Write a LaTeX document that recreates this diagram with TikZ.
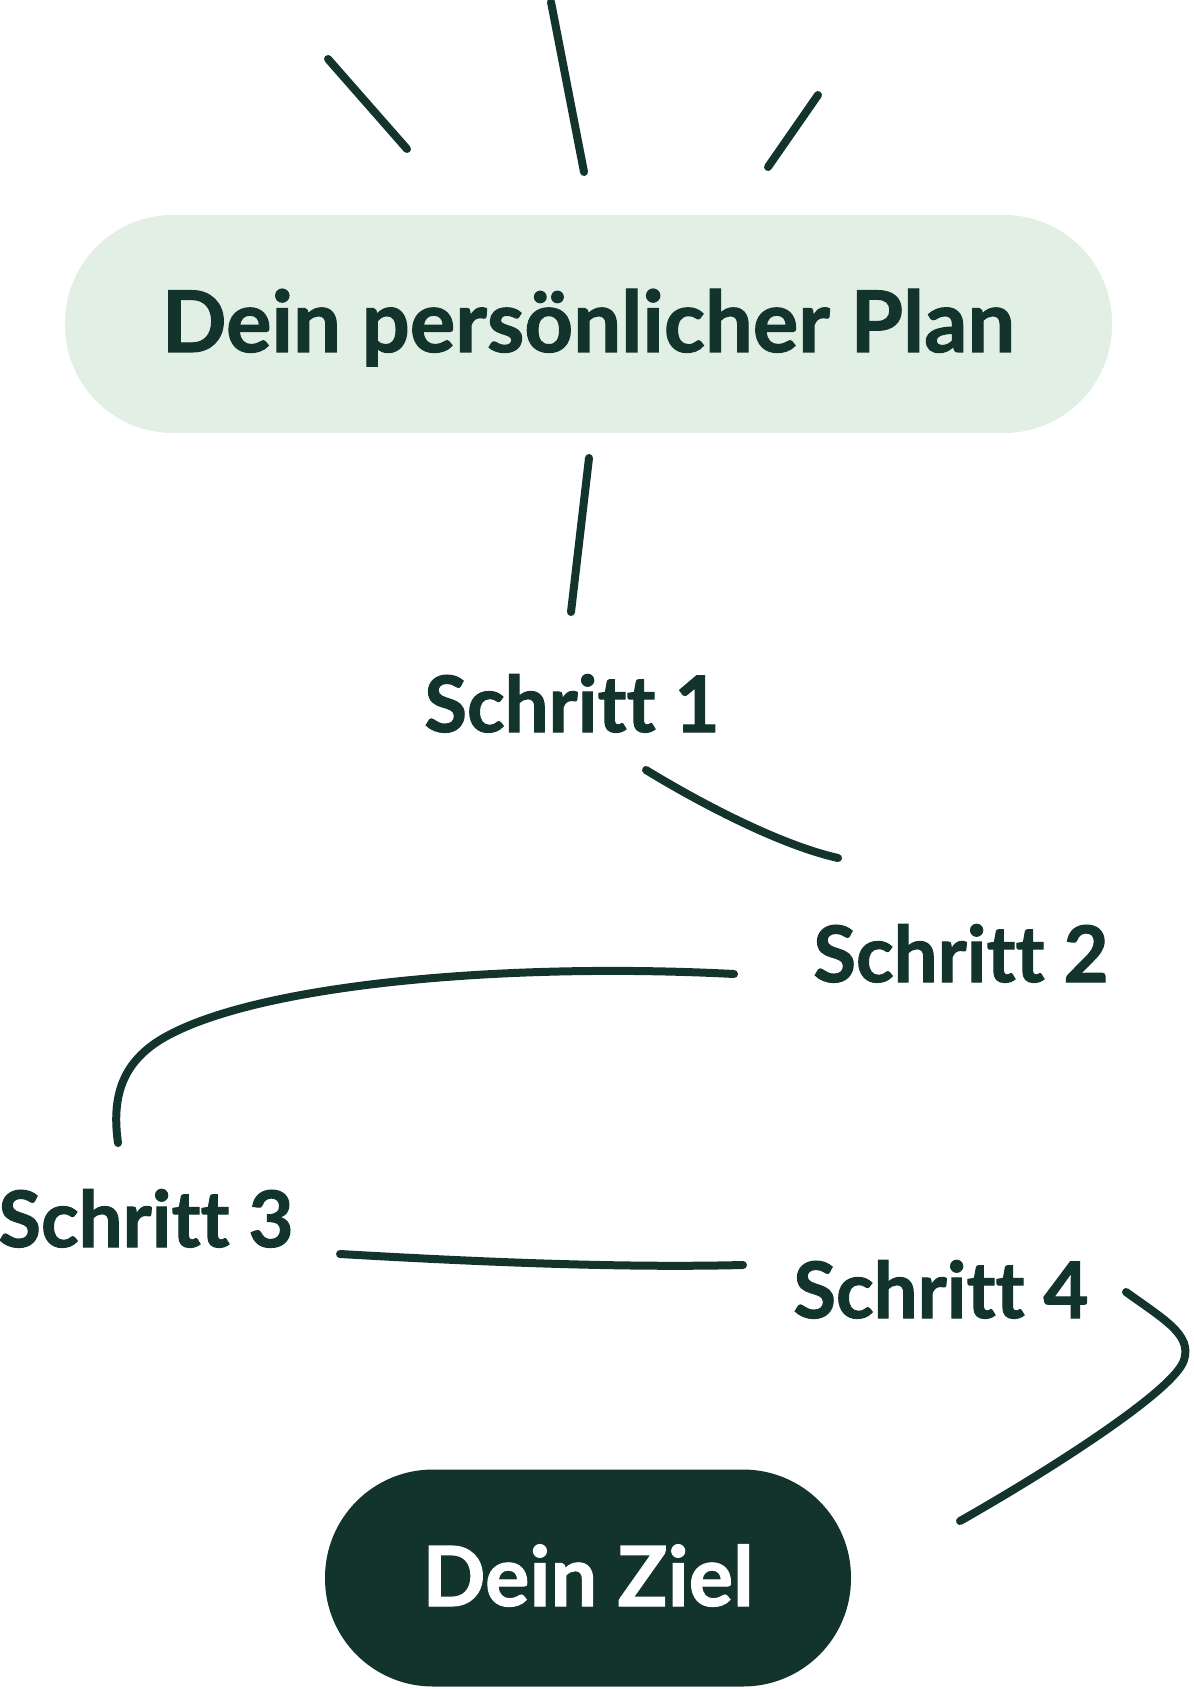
\documentclass[tikz,border=0pt]{standalone}
\usepackage{fontspec}
\setmainfont{Lato}[Ligatures=NoCommon,BoldFeatures={FakeBold=1.3}]
\usepackage{tikz}
\usetikzlibrary{calc,positioning}
\definecolor{inkc}{HTML}{13342D}
\definecolor{pillbg}{HTML}{E2EFE4}
\tikzset{
  pencil/.style={draw=inkc,line width=4pt,line cap=round},
  steplbl/.style={text=inkc,anchor=base,inner sep=0pt,font=\fontsize{39}{40}\selectfont\bfseries},
  pill/.style={rounded corners=54pt,inner sep=0pt,text depth=0pt,text height=28pt,align=center}
}
\begin{document}
\begin{tikzpicture}[x=0.5pt,y=-0.5pt]
\useasboundingbox (0,0) rectangle (1193,1689);
% rays
\draw[pencil] (328,59)--(407,149);
\draw[pencil] (551,2)--(584,172);
\draw[pencil] (818,95)--(768,167);
% pills and steps
\node[pill,fill=pillbg,minimum width=523.5pt,minimum height=109pt,text=inkc,
  font=\fontsize{42.5}{44}\selectfont\bfseries] (plan) at (588.5,324) {Dein persönlicher Plan};
\node[steplbl] (s1) at (572,732) {Schritt 1};
\node[steplbl] (s2) at (961,982) {Schritt 2};
\node[steplbl] (s3) at (146,1247) {Schritt 3};
\node[steplbl] (s4) at (941,1318) {Schritt 4};
\node[pill,fill=inkc,minimum width=263pt,minimum height=108.5pt,text=white,
  font=\fontsize{41.5}{43}\selectfont\bfseries] (ziel) at (588,1578) {Dein Ziel};
% connector ends
\coordinate (pa) at (589,458); \coordinate (pb) at (571,612);
\coordinate (sa) at (646,770); \coordinate (sb) at (838,858);
\coordinate (sc) at (734,974); \coordinate (sd) at (118,1143);
\coordinate (se) at (340,1254); \coordinate (sf) at (743,1265);
\coordinate (sg) at (1126,1292); \coordinate (sh) at (960,1521);
% connectors
\draw[pencil] (pa)--(pb);
\draw[pencil] (sa) .. controls (700,803) and (780,845) .. (sb);
\draw[pencil] (sc) .. controls (500,962) and (250,985) .. (160,1040)
  .. controls (120,1065) and (112,1100) .. (sd);
\draw[pencil] (se) .. controls (480,1262) and (620,1268) .. (sf);
\draw[pencil] (sg) .. controls (1165,1320) and (1192,1335) .. (1184,1360)
  .. controls (1175,1390) and (1050,1470) .. (sh);
\end{tikzpicture}
\end{document}
